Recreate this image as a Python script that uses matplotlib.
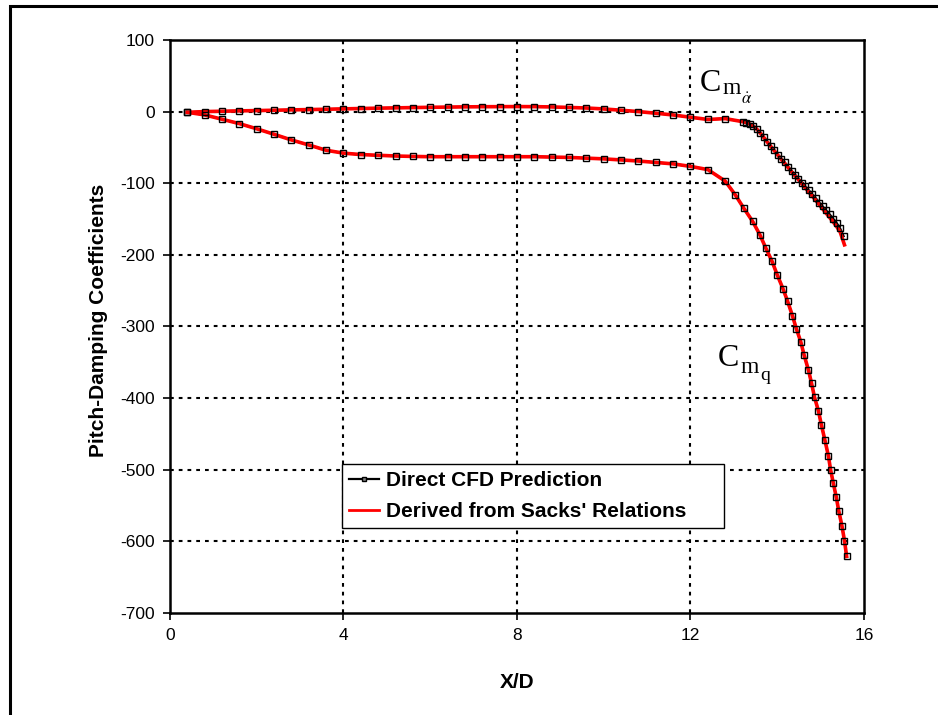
import matplotlib
matplotlib.use("Agg")
import matplotlib.pyplot as plt
from matplotlib.lines import Line2D
from matplotlib.patches import Rectangle

plt.rcParams['font.family'] = ['Liberation Sans', 'DejaVu Sans']
plt.rcParams['mathtext.fontset'] = 'stix'
plt.rcParams['axes.unicode_minus'] = False

# C_m_alpha-dot, direct CFD prediction
x_alpha_cfd = [0.4, 0.8, 1.2, 1.6, 2.0, 2.4, 2.8, 3.2, 3.6, 4.0, 4.4, 4.8, 5.2, 5.6,
               6.0, 6.4, 6.8, 7.2, 7.6, 8.0, 8.4, 8.8, 9.2, 9.6, 10.0, 10.4, 10.8,
               11.2, 11.6, 12.0, 12.4, 12.8,
               13.20, 13.29, 13.37, 13.45, 13.53, 13.61, 13.69, 13.77, 13.85, 13.93,
               14.01, 14.09, 14.17, 14.25, 14.33, 14.41, 14.49, 14.57, 14.65, 14.73,
               14.81, 14.89, 14.97, 15.05, 15.13, 15.21, 15.29, 15.37, 15.45, 15.53]
cma_cfd = [-1, 0, 0.5, 1, 1.4, 1.9, 2.4, 2.8, 3.3, 3.8, 4.3, 4.8, 5.2, 5.6,
           6.0, 6.3, 6.6, 6.8, 6.9, 7.0, 6.9, 6.5, 5.8, 5.0, 3.7, 1.9, 0,
           -2.3, -4.7, -7.9, -11, -9.8,
           -14, -15.5, -17.5, -20.5, -24.5, -30, -36, -42.5, -48.5, -54,
           -60, -65.5, -71, -77, -82.5, -88, -93.5, -99, -104.5, -110,
           -115.5, -121, -127, -132.5, -138, -143.5, -149.5, -155.5, -163, -174]

# C_m_alpha-dot, derived from Sacks' relations
x_alpha_sacks = [0.4, 0.8, 1.2, 1.6, 2.0, 2.4, 2.8, 3.2, 3.6, 4.0, 4.4, 4.8, 5.2, 5.6,
                 6.0, 6.4, 6.8, 7.2, 7.6, 8.0, 8.4, 8.8, 9.2, 9.6, 10.0, 10.4, 10.8,
                 11.2, 11.6, 12.0, 12.4, 12.8,
                 13.20, 13.29, 13.37, 13.45, 13.53, 13.61, 13.69, 13.77, 13.85, 13.93,
                 14.01, 14.09, 14.17, 14.25, 14.33, 14.41, 14.49, 14.57, 14.65, 14.73,
                 14.81, 14.89, 14.97, 15.05, 15.13, 15.21, 15.29, 15.37, 15.45, 15.55]
cma_sacks = [-1, 0, 0.5, 1, 1.4, 1.9, 2.4, 2.8, 3.3, 3.8, 4.3, 4.8, 5.2, 5.6,
             6.0, 6.3, 6.6, 6.8, 6.9, 7.0, 6.9, 6.5, 5.8, 5.0, 3.7, 1.9, 0,
             -2.3, -4.7, -7.9, -11, -9.8,
             -14, -15.5, -17.5, -20.5, -24.5, -30, -36, -42.5, -48.5, -54.5,
             -60.5, -66.5, -72, -78, -84, -89.5, -95, -101, -106.5, -112.5,
             -118, -124, -130, -136, -142, -148, -154, -160.5, -168, -186]

# C_m_q (same points for both sources)
x_q = [0.4, 0.8, 1.2, 1.6, 2.0, 2.4, 2.8, 3.2, 3.6, 4.0, 4.4, 4.8, 5.2, 5.6,
       6.0, 6.4, 6.8, 7.2, 7.6, 8.0, 8.4, 8.8, 9.2, 9.6, 10.0, 10.4, 10.8,
       11.2, 11.6, 12.0, 12.4,
       12.80, 13.03, 13.23, 13.43, 13.60, 13.74, 13.88, 14.00, 14.13, 14.24,
       14.35, 14.44, 14.54, 14.62, 14.72, 14.79, 14.86, 14.95, 15.02, 15.10,
       15.18, 15.23, 15.29, 15.36, 15.42, 15.49, 15.55, 15.60]
cmq_cfd = [-1, -4.6, -10.7, -16.8, -24, -31.7, -39.6, -46.6, -54, -58, -60, -61, -62, -62.6,
           -63, -63, -63, -63, -63, -63, -63, -63.5, -64, -65, -66, -67.5, -69,
           -71, -73, -76.5, -81,
           -97, -116, -135, -153, -172, -191, -209, -228, -247, -265,
           -285, -303, -321, -340, -361, -379, -399, -418, -438, -459,
           -481, -500, -518, -538, -558, -578, -599, -621]
cmq_sacks = cmq_cfd

legend_labels = ["Direct CFD Prediction", "Derived from Sacks' Relations"]

fig = plt.figure(figsize=(9.38, 7.15), dpi=100)
ax = fig.add_axes([0.1812, 0.1427, 0.7399, 0.8014])

# black CFD line under the red one, hollow markers on top
for xs, ys in [(x_alpha_cfd, cma_cfd), (x_q, cmq_cfd)]:
    ax.plot(xs, ys, color='black', lw=1.6, zorder=3)
for xs, ys in [(x_alpha_sacks, cma_sacks), (x_q, cmq_sacks)]:
    ax.plot(xs, ys, color='red', lw=2.6, zorder=4)
for xs, ys in [(x_alpha_cfd, cma_cfd), (x_q, cmq_cfd)]:
    ax.plot(xs, ys, ls='none', marker='s', ms=4.0, mfc='none', mec='black',
            mew=1.0, zorder=5)

ax.set_xlim(0, 16)
ax.set_ylim(-700, 100)
ax.set_xticks([0, 4, 8, 12, 16])
ax.set_yticks(range(-700, 101, 100))
ax.grid(True, color='black', lw=1.5, ls=(0, (1.8, 2.4)))
# no grid on the frame itself
for gl in [ax.xaxis.get_gridlines()[0], ax.xaxis.get_gridlines()[-1],
           ax.yaxis.get_gridlines()[0], ax.yaxis.get_gridlines()[-1]]:
    gl.set_visible(False)
ax.tick_params(direction='out', length=5, width=1.2, labelsize=12.5, pad=6)
for sp in ax.spines.values():
    sp.set_linewidth(1.8)
    sp.set_zorder(6)

ax.set_xlabel('X/D', fontsize=15, fontweight='bold')
ax.set_ylabel('Pitch-Damping Coefficients', fontsize=15, fontweight='bold')
ax.xaxis.set_label_coords(0.5, -0.104)
ax.yaxis.set_label_coords(-0.090, 0.51)

serif = ['Liberation Serif', 'DejaVu Serif']
# C_m_alpha-dot label
ax.text(12.22, 29.4, 'C', fontsize=23, family=serif, va='baseline')
ax.text(12.74, 24.5, 'm', fontsize=17, family=serif, va='baseline')
ax.text(13.16, 11.2, r'$\dot{\alpha}$', fontsize=12, va='baseline')
# C_m_q label
ax.text(12.63, -355, 'C', fontsize=23, family=serif, va='baseline')
ax.text(13.15, -365, 'm', fontsize=17, family=serif, va='baseline')
ax.text(13.60, -375, 'q', fontsize=14, family=serif, va='baseline')

handles = [Line2D([], [], color='black', lw=1.6, marker='s', ms=3, mfc='gray', mec='black'),
           Line2D([], [], color='red', lw=2)]
leg = ax.legend(handles, legend_labels, loc='lower left',
                bbox_to_anchor=(0.248, 0.148, 0.55, 0.128), mode='expand',
                borderaxespad=0, fancybox=False, framealpha=1, edgecolor='black',
                prop={'size': 15, 'weight': 'bold'}, handlelength=1.4,
                handletextpad=0.35, labelspacing=0.55, borderpad=0.35)
leg.get_frame().set_linewidth(1.0)
leg.set_zorder(10)

# outer frame around the figure
fig.patches.append(Rectangle((10 / 938, -0.05), 1.0, 1 - 6 / 715 + 0.05,
                             transform=fig.transFigure, fill=False,
                             lw=2.2, ec='black'))

fig.savefig('out.png', dpi=100)
